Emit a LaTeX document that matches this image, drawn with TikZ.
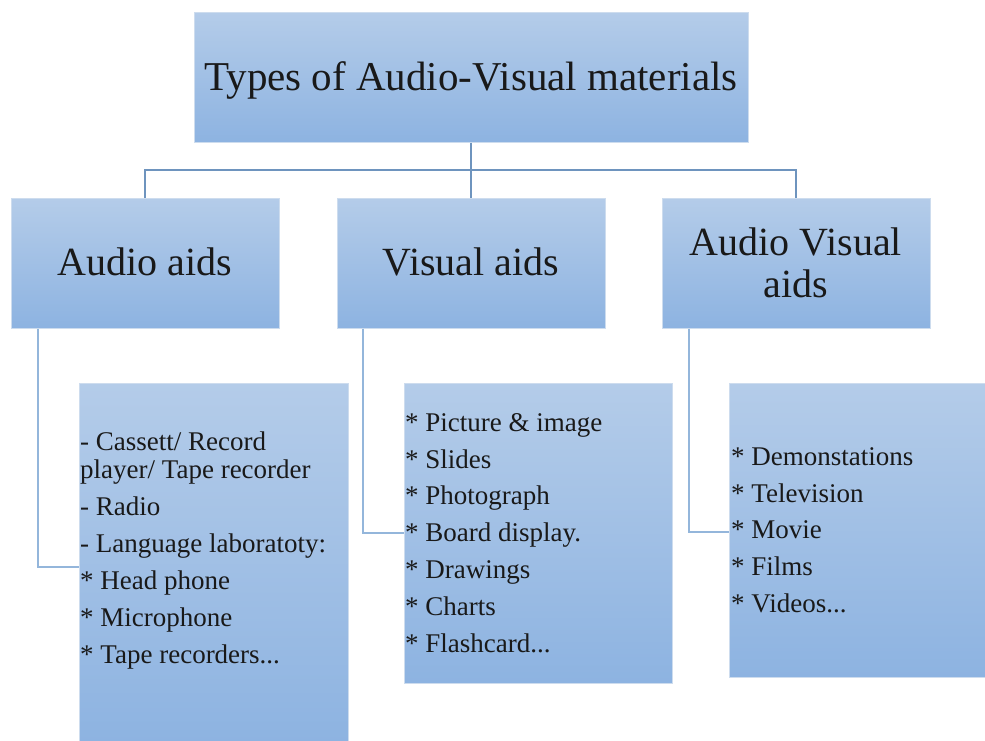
\documentclass[tikz,border=0pt]{standalone}
\usepackage{fontspec}
\setmainfont{Liberation Serif}
\definecolor{boxtop}{RGB}{180,204,233}
\definecolor{boxbot}{RGB}{141,179,225}
\definecolor{boxedge}{RGB}{205,220,238}
\definecolor{conntop}{RGB}{110,148,190}
\definecolor{connlow}{RGB}{148,182,219}
\definecolor{txt}{RGB}{25,25,25}
\begin{document}
\begin{tikzpicture}[x=1pt,y=-1pt,
  box/.style={rectangle, anchor=north west, inner sep=0pt, top color=boxtop, bottom color=boxbot, draw=boxedge, line width=0.7pt},
  bigtxt/.style={anchor=base, inner sep=0pt, text=txt, font=\fontsize{40}{43}\selectfont},
  titletxt/.style={anchor=base, inner sep=0pt, text=txt, font=\fontsize{41}{44}\selectfont},
  itemtxt/.style={anchor=base west, inner sep=0pt, text=txt, font=\fontsize{27}{37}\selectfont},
  conn/.style={draw=conntop, line width=2pt},
  connb/.style={draw=connlow, line width=2pt}]
\useasboundingbox (0,0) rectangle (985,740);

% boxes
\node[box, minimum width=554pt, minimum height=130pt] (top) at (194,12) {};
\node[box, minimum width=268pt, minimum height=130pt] (aa) at (11,198) {};
\node[box, minimum width=268pt, minimum height=130pt] (va) at (337,198) {};
\node[box, minimum width=268pt, minimum height=130pt] (av) at (662,198) {};
\node[box, minimum width=269pt, minimum height=360pt] (al) at (79,383) {};
\node[box, minimum width=268pt, minimum height=300pt] (vl) at (404,383) {};
\node[box, minimum width=258pt, minimum height=294pt] (avl) at (729,383) {};

% connectors
\coordinate (bus) at (471,170);
\draw[conn] (top.south) -- (va.north);
\draw[conn] (aa.north) |- (bus) -| (av.north);
\coordinate (aj) at (79,567);
\coordinate (vj) at (404,533);
\coordinate (avj) at (729,532);
\draw[connb] ([xshift=27pt]aa.south west) |- (aj);
\draw[connb] ([xshift=26pt]va.south west) |- (vj);
\draw[connb] ([xshift=27pt]av.south west) |- (avj);

% headings
\node[titletxt] (tt) at (471,90) {Types of Audio-Visual materials};
\node[bigtxt] (aat) at (145,275) {Audio aids};
\node[bigtxt] (vat) at (471,275) {Visual aids};
\node[bigtxt] (avt1) at (796,255) {Audio Visual};
\node[bigtxt] (avt2) at (796,297) {aids};

% audio list
\node[itemtxt] (a1) at (80,450) {- Cassett/ Record};
\node[itemtxt] (a2) at (80,478) {player/ Tape recorder};
\node[itemtxt] (a3) at (80,515) {- Radio};
\node[itemtxt] (a4) at (80,552) {- Language laboratoty:};
\node[itemtxt] (a5) at (80,589) {* Head phone};
\node[itemtxt] (a6) at (80,626) {* Microphone};
\node[itemtxt] (a7) at (80,663) {* Tape recorders...};

% visual list
\node[itemtxt] (v1) at (405,431) {* Picture \& image};
\node[itemtxt] (v2) at (405,468) {* Slides};
\node[itemtxt] (v3) at (405,504) {* Photograph};
\node[itemtxt] (v4) at (405,541) {* Board display.};
\node[itemtxt] (v5) at (405,578) {* Drawings};
\node[itemtxt] (v6) at (405,615) {* Charts};
\node[itemtxt] (v7) at (405,652) {* Flashcard...};

% audio-visual list
\node[itemtxt] (w1) at (731,465) {* Demonstations};
\node[itemtxt] (w2) at (731,502) {* Television};
\node[itemtxt] (w3) at (731,538) {* Movie};
\node[itemtxt] (w4) at (731,575) {* Films};
\node[itemtxt] (w5) at (731,612) {* Videos...};
\end{tikzpicture}
\end{document}
